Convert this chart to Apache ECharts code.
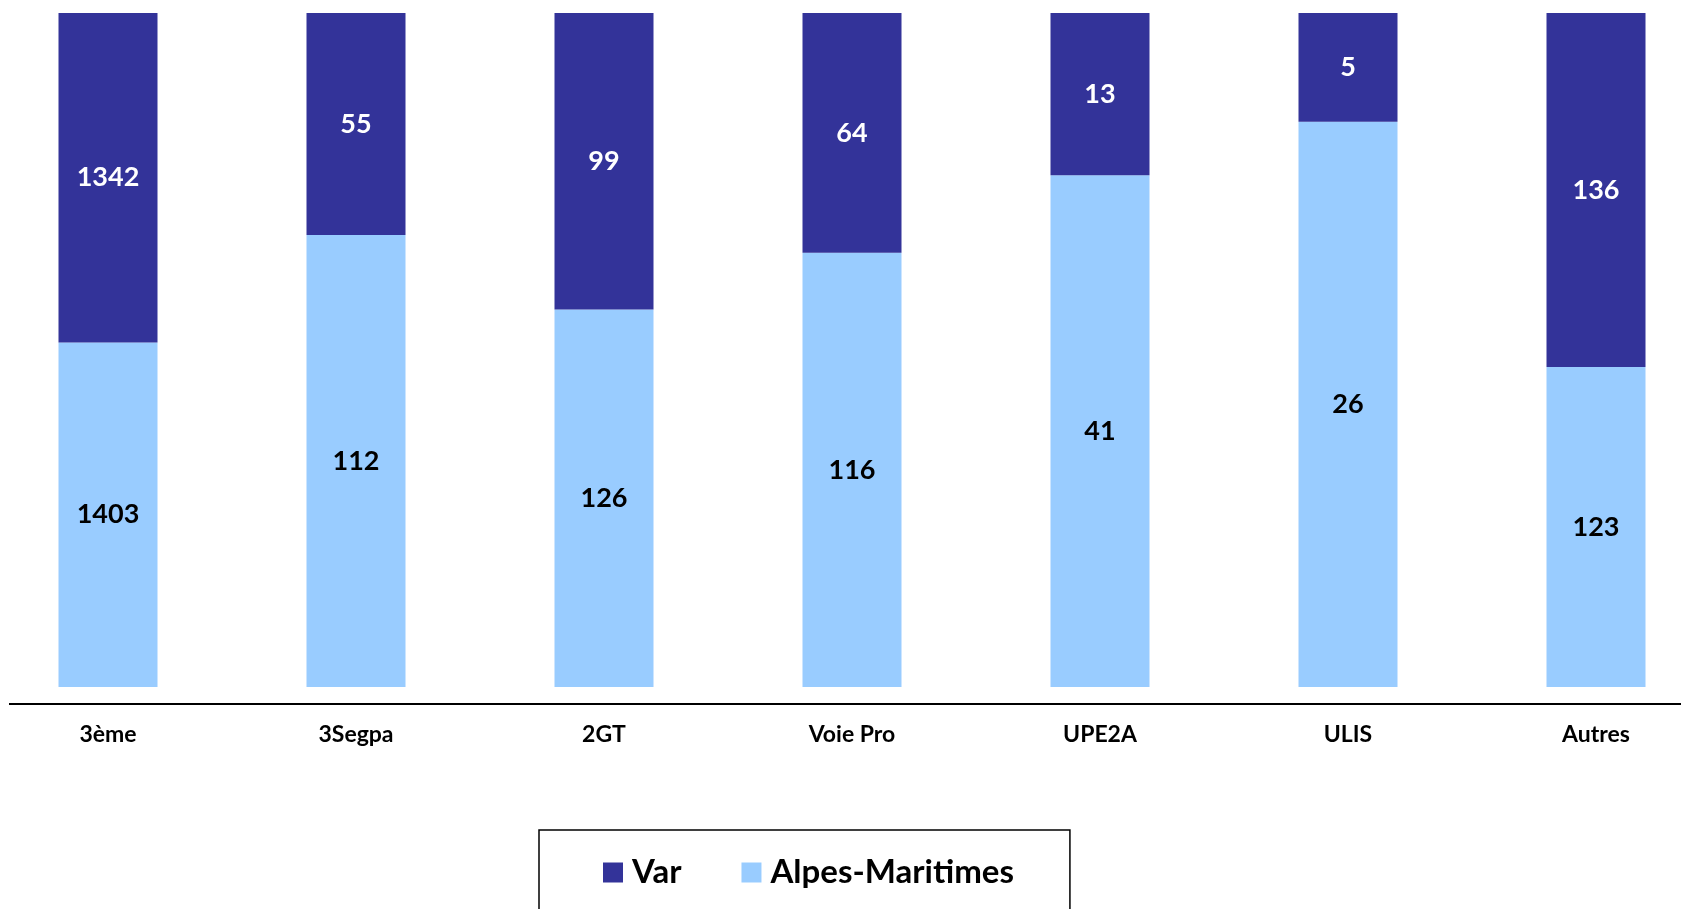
<!DOCTYPE html>
<html>
<head>
    <meta charset="utf-8">
    <title>Var / Alpes-Maritimes</title>
    <script src="https://cdn.jsdelivr.net/npm/echarts@6/dist/echarts.min.js"></script>
    <style>
        html, body { margin: 0; padding: 0; background: #fff; overflow: hidden; }
        /* le graphique déborde un peu à gauche et à droite de la fenêtre */
        #chart { position: absolute; left: -16px; top: 0; width: 1736px; height: 909px; }
    </style>
</head>
<body>
<div id="chart"></div>
<script>
    var categories = ['3ème', '3Segpa', '2GT', 'Voie Pro', 'UPE2A', 'ULIS', 'Autres'];
    var varValues = [1342, 55, 99, 64, 13, 5, 136];
    var alpesValues = [1403, 112, 126, 116, 41, 26, 123];

    // part de chaque département (barres empilées à 100 %)
    var totals = categories.map(function (c, i) { return varValues[i] + alpesValues[i]; });
    function share(values) {
        return values.map(function (v, i) {
            return { value: v / totals[i] * 100, raw: v };
        });
    }

    var font = 'Lato, "Open Sans", sans-serif';
    var chart = echarts.init(document.getElementById('chart'));

    var option = {
        animation: false,
        grid: { left: 0, right: 0, top: 13, bottom: 222, containLabel: false },
        legend: {
            data: ['Var', 'Alpes-Maritimes'],
            left: 555,
            top: 830,
            padding: [26, 56, 60, 64],
            borderColor: '#000',
            borderWidth: 1.5,
            itemWidth: 20,
            itemHeight: 20,
            itemGap: 60,
            icon: 'rect',
            textStyle: { fontFamily: font, fontWeight: 'bold', fontSize: 33, color: '#000', padding: [0, 0, 0, 4] }
        },
        xAxis: {
            type: 'category',
            data: categories,
            offset: 17,
            axisLine: { show: false },
            axisTick: { show: false },
            axisLabel: { fontFamily: font, fontWeight: 'bold', fontSize: 23, color: '#000', margin: 19 }
        },
        yAxis: {
            type: 'value',
            min: 0,
            max: 100,
            show: false
        },
        graphic: [{
            type: 'line',
            shape: { x1: 25, y1: 704, x2: 1736, y2: 704 },
            style: { stroke: '#000', lineWidth: 2 }
        }],
        series: [
            {
                name: 'Alpes-Maritimes',
                type: 'bar',
                stack: 'total',
                barWidth: 99,
                data: share(alpesValues),
                itemStyle: { color: '#99CCFF' },
                label: {
                    show: true,
                    position: 'inside',
                    fontFamily: font,
                    fontWeight: 'bold',
                    fontSize: 27,
                    color: '#000',
                    formatter: function (p) { return p.data.raw; }
                }
            },
            {
                name: 'Var',
                type: 'bar',
                stack: 'total',
                barWidth: 99,
                data: share(varValues),
                itemStyle: { color: '#333399' },
                label: {
                    show: true,
                    position: 'inside',
                    fontFamily: font,
                    fontWeight: 'bold',
                    fontSize: 27,
                    color: '#fff',
                    formatter: function (p) { return p.data.raw; }
                }
            }
        ]
    };
    chart.setOption(option);
</script>
</body>
</html>
